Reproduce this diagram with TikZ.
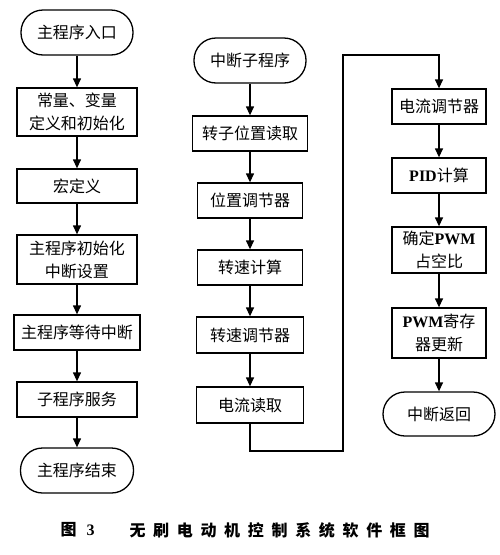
\documentclass[tikz,border=0pt]{standalone}
\usepackage{fontspec}
\setmainfont{Liberation Serif}
\newfontfamily\cjk{Noto Sans CJK SC}
\usetikzlibrary{arrows.meta}
\begin{document}
\begin{tikzpicture}[x=1pt,y=-1pt,
  box/.style={draw, line width=1.3pt, inner sep=0pt, align=center,
    font=\cjk\fontsize{16}{23}\selectfont},
  term/.style={box, rounded corners=22pt},
  arr/.style={-{Triangle[length=9pt,width=8pt]}, line width=1.3pt},
]
\path[use as bounding box, fill=white] (0,0) rectangle (500,555);
\newcommand{\lt}[1]{{\rmfamily\bfseries #1}}
% left column
\node[term, minimum width=112pt, minimum height=45pt] (L1) at (77,32.5) {主程序入口};
\node[box, minimum width=120pt, minimum height=48pt] (L2) at (77,112) {常量、变量\\定义和初始化};
\node[box, minimum width=120pt, minimum height=34pt] (L3) at (77,186) {宏定义};
\node[box, minimum width=120pt, minimum height=49pt] (L4) at (77,259.5) {主程序初始化\\中断设置};
\node[box, minimum width=126pt, minimum height=35pt] (L5) at (77,332.5) {主程序等待中断};
\node[box, minimum width=120pt, minimum height=35pt] (L6) at (77,399.5) {子程序服务};
\node[term, minimum width=113pt, minimum height=45pt] (L7) at (77,470.5) {主程序结束};
\foreach \a/\b in {L1/L2,L2/L3,L3/L4,L4/L5,L5/L6,L6/L7} \draw[arr] (\a) -- (\b);
% middle column
\node[term, minimum width=112pt, minimum height=45pt] (M1) at (250,60.5) {中断子程序};
\node[box, minimum width=115pt, minimum height=35pt] (M2) at (250,133.5) {转子位置读取};
\node[box, minimum width=105pt, minimum height=35pt] (M3) at (250,200.5) {位置调节器};
\node[box, minimum width=105pt, minimum height=35pt] (M4) at (250,267.5) {转速计算};
\node[box, minimum width=107pt, minimum height=36pt] (M5) at (250,335) {转速调节器};
\node[box, minimum width=107pt, minimum height=36pt] (M6) at (250,405) {电流读取};
\foreach \a/\b in {M1/M2,M2/M3,M3/M4,M4/M5,M5/M6} \draw[arr] (\a) -- (\b);
% right column
\node[box, minimum width=94pt, minimum height=35pt] (R1) at (439,106.5) {电流调节器};
\node[box, minimum width=94pt, minimum height=35pt] (R2) at (439,175.5) {\lt{PID}计算};
\node[box, minimum width=94pt, minimum height=46pt] (R3) at (439,250) {确定\lt{PWM}\\占空比};
\node[box, minimum width=94pt, minimum height=50pt] (R4) at (439,333) {\lt{PWM}寄存\\器更新};
\node[term, minimum width=112pt, minimum height=44pt] (R5) at (439,414) {中断返回};
\foreach \a/\b in {R1/R2,R2/R3,R3/R4,R4/R5} \draw[arr] (\a) -- (\b);
% connector
\draw[arr] (M6.south) |- (343,451) -- (343,55) -| (R1.north);
% caption
\node[anchor=west, font=\cjk\bfseries\fontsize{16}{18}\selectfont] (c1) at (57,530) {图\hspace{10pt}\rmfamily 3};
\node[anchor=west, font=\cjk\bfseries\fontsize{16}{18}\selectfont\addfontfeature{LetterSpace=48}] (c2) at (126,530) {无刷电动机控制系统软件框图};
\end{tikzpicture}
\end{document}
